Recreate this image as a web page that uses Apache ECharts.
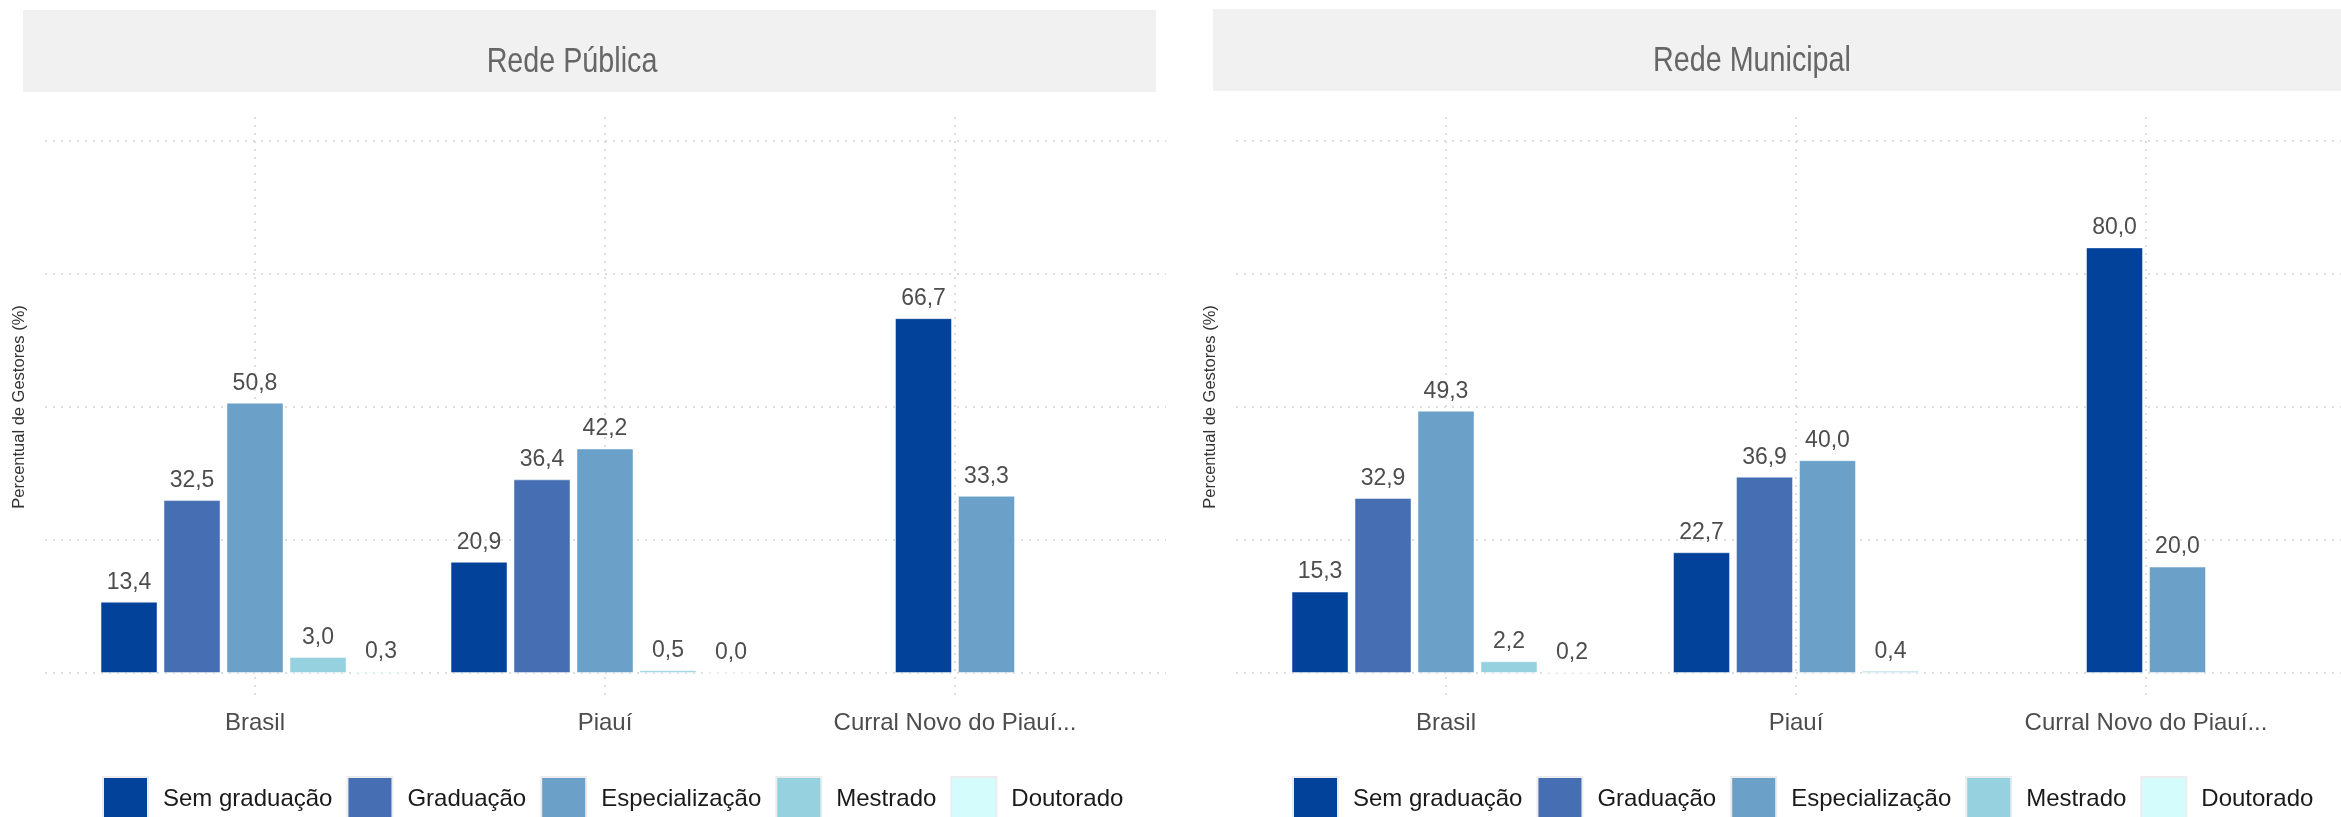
<!DOCTYPE html>
<html>
<head>
<meta charset="utf-8">
<script src="https://cdn.jsdelivr.net/npm/echarts@6.0.0/dist/echarts.min.js"></script>
<style>
html, body { margin: 0; padding: 0; background: #ffffff; }
#chart { width: 2341px; height: 817px; }
</style>
</head>
<body>
<div id="chart"></div>
<script>
// ---- data ----
const categories = ['Brasil', 'Piauí', 'Curral Novo do Piauí...'];
const seriesNames = ['Sem graduação', 'Graduação', 'Especialização', 'Mestrado', 'Doutorado'];
const panelTitles = ['Rede Pública', 'Rede Municipal'];
const yAxisTitle = 'Percentual de Gestores (%)';

const publicaSemGraduacao   = [13.4, 20.9, 66.7];
const publicaGraduacao      = [32.5, 36.4, null];
const publicaEspecializacao = [50.8, 42.2, 33.3];
const publicaMestrado       = [3.0, 0.5, null];
const publicaDoutorado      = [0.3, 0.0, null];

const municipalSemGraduacao   = [15.3, 22.7, 80.0];
const municipalGraduacao      = [32.9, 36.9, null];
const municipalEspecializacao = [49.3, 40.0, 20.0];
const municipalMestrado       = [2.2, 0.4, null];
const municipalDoutorado      = [0.2, null, null];

const yMin = 0, yMax = 100, yInterval = 25;

// ---- styles ----
const seriesColors = ['#03429B', '#456FB2', '#6BA0C8', '#96D1DF', '#D4FCFC'];
const FONT = '"Liberation Sans", Arial, Helvetica, sans-serif';
const gridLineStyle = { color: '#dddddd', width: 2, type: [2, 6] };

const panelData = [
  [publicaSemGraduacao, publicaGraduacao, publicaEspecializacao, publicaMestrado, publicaDoutorado],
  [municipalSemGraduacao, municipalGraduacao, municipalEspecializacao, municipalMestrado, municipalDoutorado]
];

// layout per panel
const panels = [
  { hLeft: 45, hWidth: 1121, barLeft: 80, vLeft: 255, stripX: 23, stripY: 10, stripW: 1133, titleX: 572, legendLeft: 102 },
  { hLeft: 1236, hWidth: 1121, barLeft: 1271, vLeft: 1446, stripX: 1213, stripY: 9, stripW: 1140, titleX: 1752, legendLeft: 1292 }
];
const plotTop = 141, plotH = 532, panelTop = 117, panelH = 583, bandW = 350;

const grid = [], xAxis = [], yAxis = [], series = [], legend = [], graphic = [];

const fmt = v => v.toFixed(1).replace('.', ',');

panels.forEach((P, p) => {
  const gBase = grid.length;
  const xBase = xAxis.length;
  const yBase = yAxis.length;
  grid.push({ left: P.hLeft, top: plotTop, width: P.hWidth, height: plotH, outerBoundsMode: 'none', containLabel: false });
  grid.push({ left: P.vLeft, top: panelTop, width: bandW * 2, height: panelH, outerBoundsMode: 'none', containLabel: false });
  grid.push({ left: P.barLeft, top: plotTop, width: bandW * 3, height: plotH, outerBoundsMode: 'none', containLabel: false });

  xAxis.push({ type: 'value', gridIndex: gBase, show: false, min: 0, max: 1 });
  xAxis.push({ type: 'value', gridIndex: gBase + 1, min: 1, max: 3, interval: 1,
    axisLine: { show: false }, axisTick: { show: false }, axisLabel: { show: false },
    splitLine: { show: true, lineStyle: gridLineStyle } });
  for (let c = 0; c < categories.length; c++) {
    xAxis.push({
      type: 'category', gridIndex: gBase + 2, data: categories, boundaryGap: true,
      show: c === 0, position: 'bottom',
      axisLine: { show: false }, axisTick: { show: false }, splitLine: { show: false },
      axisLabel: { show: c === 0, fontSize: 24, color: '#4d4d4d', fontFamily: FONT, margin: 38, interval: 0 }
    });
  }
  yAxis.push({ type: 'value', gridIndex: gBase, min: yMin, max: yMax, interval: yInterval,
    axisLine: { show: false }, axisTick: { show: false }, axisLabel: { show: false },
    splitLine: { show: true, lineStyle: gridLineStyle },
    name: yAxisTitle, nameLocation: 'middle', nameRotate: 90, nameGap: 17,
    nameTextStyle: { fontSize: 16.5, color: '#333333', fontFamily: FONT } });
  yAxis.push({ type: 'value', gridIndex: gBase + 1, min: 0, max: 1, show: false, splitLine: { show: false } });
  yAxis.push({ type: 'value', gridIndex: gBase + 2, min: yMin, max: yMax, show: false, splitLine: { show: false } });

  // one category axis per category so the bars present in each group are centred
  for (let c = 0; c < categories.length; c++) {
    seriesNames.forEach((name, s) => {
      const v = panelData[p][s][c];
      if (v === null || v === undefined) return;
      const data = categories.map((_, i) => (i === c ? v : null));
      series.push({
        type: 'bar', name: name,
        xAxisIndex: xBase + 2 + c, yAxisIndex: yBase + 2,
        data: data, barWidth: 57, barGap: '10.5%',
        itemStyle: { color: seriesColors[s], borderColor: 'rgba(255,255,255,0.45)', borderWidth: 1 },
        label: { show: true, position: 'top', distance: 8, fontSize: 23, color: '#4d4d4d', fontFamily: FONT,
          formatter: prm => fmt(prm.value) },
        emphasis: { disabled: true }, animation: false
      });
    });
  }

  legend.push({
    left: P.legendLeft, top: 776, orient: 'horizontal', padding: 0,
    itemWidth: 45, itemHeight: 45, itemGap: 14, icon: 'rect',
    data: seriesNames,
    itemStyle: { borderColor: '#ececec', borderWidth: 2 },
    textStyle: { fontSize: 24, color: '#1a1a1a', fontFamily: FONT, padding: [16, 0, 0, 10] },
    selectedMode: false
  });

  graphic.push({ type: 'rect', z: -1, shape: { x: P.stripX, y: P.stripY, width: P.stripW, height: 82 },
    style: { fill: '#f1f1f1' }, silent: true });
  graphic.push({ type: 'text', x: P.titleX, y: P.stripY + 52, scaleX: 0.82, silent: true,
    style: { text: panelTitles[p], fontSize: 35, fontFamily: FONT, fill: '#666666',
      align: 'center', verticalAlign: 'middle', textAlign: 'center', textVerticalAlign: 'middle' } });
});

const chart = echarts.init(document.getElementById('chart'), null, { renderer: 'canvas' });
chart.setOption({
  backgroundColor: '#ffffff',
  animation: false,
  grid, xAxis, yAxis, series, legend, graphic
});
</script>
</body>
</html>
